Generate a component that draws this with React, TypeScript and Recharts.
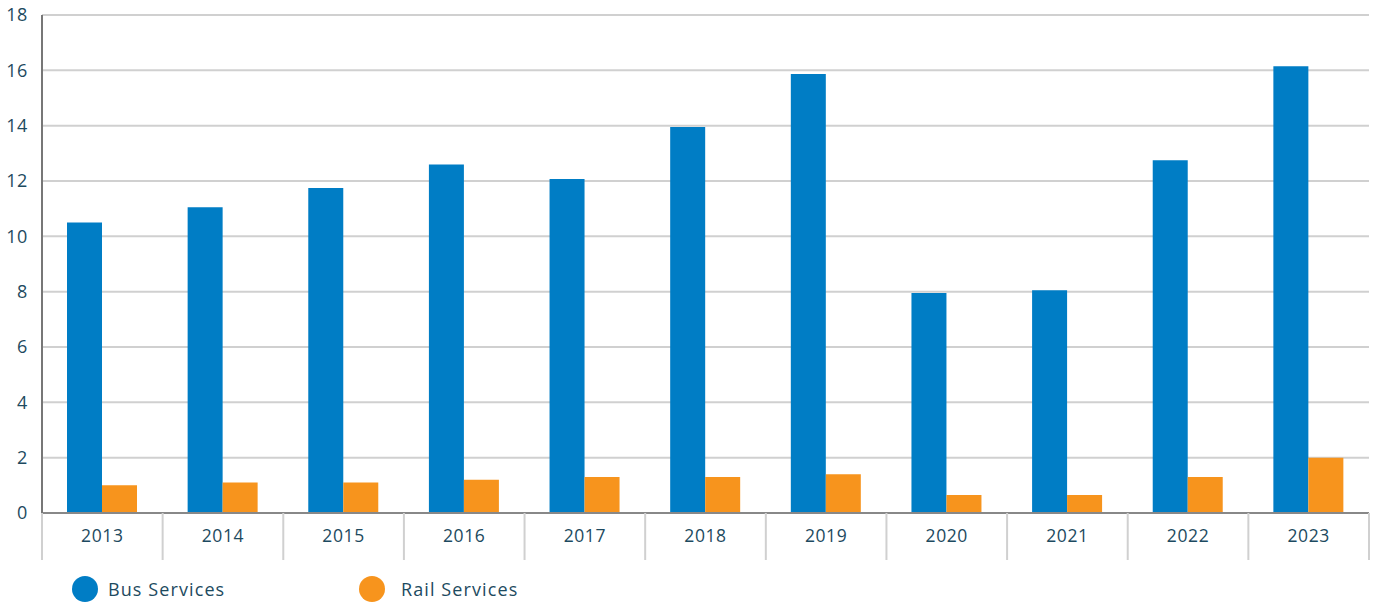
import { BarChart, Bar, XAxis, YAxis, CartesianGrid } from "recharts";

const years = ["2013", "2014", "2015", "2016", "2017", "2018", "2019", "2020", "2021", "2022", "2023"];
const busServices = [10.5, 11.05, 11.75, 12.6, 12.07, 13.95, 15.87, 7.95, 8.05, 12.75, 16.15];
const railServices = [1.0, 1.1, 1.1, 1.2, 1.3, 1.3, 1.4, 0.65, 0.65, 1.3, 2.0];
const yTicks = [0, 2, 4, 6, 8, 10, 12, 14, 16, 18];
const seriesNames = ["Bus Services", "Rail Services"];

const BLUE = "#007dc5";
const ORANGE = "#f7941d";
const TEXT = "#1d4a60";
const FONT = "'Open Sans', sans-serif";

const WIDTH = 1377;
const HEIGHT = 560;
const MARGIN = { top: 15, right: 8, left: 0, bottom: 0 };
const Y_AXIS_W = 42;
const X_AXIS_H = 47;
const band = (WIDTH - MARGIN.left - MARGIN.right - Y_AXIS_W) / years.length;

const data = years.map((year, i) => ({
  year,
  bus: busServices[i],
  rail: railServices[i],
}));

function YearTick(props: any) {
  const { x, y, payload, index } = props;
  const half = band / 2;
  return (
    <g>
      <line x1={x - half} y1={y} x2={x - half} y2={y + X_AXIS_H} stroke="#d0d0d0" strokeWidth={2} />
      {index === years.length - 1 && (
        <line x1={x + half} y1={y} x2={x + half} y2={y + X_AXIS_H} stroke="#d0d0d0" strokeWidth={2} />
      )}
      <text x={x} y={y + 29} textAnchor="middle" fill={TEXT} fontSize={17.5} fontFamily={FONT} letterSpacing={0.6}>
        {payload.value}
      </text>
    </g>
  );
}

export default function App() {
  return (
    <div style={{ position: "absolute", left: 0, top: 0, width: WIDTH, height: 603, background: "#fff" }}>
      <BarChart width={WIDTH} height={HEIGHT} data={data} margin={MARGIN} barSize={35} barGap={0}>
        <CartesianGrid vertical={false} stroke="#d0d0d0" strokeWidth={2} />
        <XAxis
          dataKey="year"
          height={X_AXIS_H}
          tickLine={false}
          tickSize={0}
          tickMargin={0}
          axisLine={{ stroke: "#888", strokeWidth: 2 }}
          tick={<YearTick />}
          interval={0}
        />
        <YAxis
          width={Y_AXIS_W}
          domain={[0, 18]}
          ticks={yTicks}
          tickLine={false}
          tickMargin={8}
          axisLine={{ stroke: "#777", strokeWidth: 2 }}
          tick={{ fill: TEXT, fontSize: 18, fontFamily: FONT, letterSpacing: 0.6 }}
        />
        <Bar dataKey="bus" name={seriesNames[0]} fill={BLUE} isAnimationActive={false} />
        <Bar dataKey="rail" name={seriesNames[1]} fill={ORANGE} isAnimationActive={false} />
      </BarChart>
      <div
        style={{
          position: "absolute",
          top: 576,
          left: 72,
          display: "flex",
          fontFamily: FONT,
          fontSize: 18,
          letterSpacing: 1.1,
          color: TEXT,
        }}
      >
        {seriesNames.map((name, i) => (
          <div key={name} style={{ display: "flex", alignItems: "center", width: 287 }}>
            <span
              style={{
                display: "inline-block",
                width: 26,
                height: 26,
                borderRadius: "50%",
                background: i === 0 ? BLUE : ORANGE,
                marginRight: i === 0 ? 10 : 16,
              }}
            />
            <span>{name}</span>
          </div>
        ))}
      </div>
    </div>
  );
}
